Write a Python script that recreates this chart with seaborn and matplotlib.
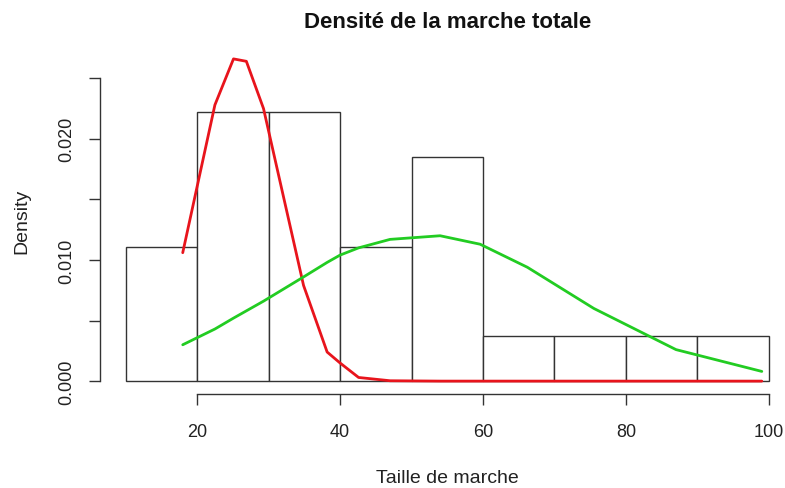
import numpy as np
import pandas as pd
import matplotlib
matplotlib.use("Agg")
import matplotlib.pyplot as plt
import seaborn as sns

# Histogram data (bins of width 10, counts)
bin_edges = [10, 20, 30, 40, 50, 60, 70, 80, 90, 100]
bin_counts = [3, 6, 6, 3, 5, 1, 1, 1, 1]

# Density curves evaluated at points
curve_x = [18.0, 22.5, 25.1, 26.9, 29.3, 34.9, 38.2, 40.0, 42.6, 47.0, 54.0, 59.6, 66.2, 75.5, 87.0, 99.0]
red_y = [0.0106, 0.0228, 0.0266, 0.0264, 0.0225, 0.0079, 0.0024, 0.0015, 0.0003, 0.00003,
         0.0, 0.0, 0.0, 0.0, 0.0, 0.0]
green_y = [0.0030, 0.0043, 0.0052, 0.0058, 0.0066, 0.0086, 0.0098, 0.0104, 0.0110, 0.0117,
           0.0120, 0.0113, 0.0094, 0.0060, 0.0026, 0.0008]

x_ticks = [20, 40, 60, 80, 100]
y_ticks = [0.000, 0.005, 0.010, 0.015, 0.020, 0.025]
y_ticklabels = ["0.000", "", "0.010", "", "0.020", ""]

sns.set_theme(style="white")
plt.rcParams['font.family'] = ['Liberation Sans', 'DejaVu Sans']

W, H = 785, 489
fig = plt.figure(figsize=(W / 100, H / 100), dpi=100)
# plot region in pixels
left_px, right_px, top_px, bottom_px = 99.8, 794.7, 47.0, 395.0
ax = fig.add_axes([left_px / W, 1 - bottom_px / H, (right_px - left_px) / W, (bottom_px - top_px) / H])

centers = [(bin_edges[i] + bin_edges[i + 1]) / 2 for i in range(len(bin_counts))]
hist_df = pd.DataFrame({"x": centers, "w": bin_counts})
sns.histplot(data=hist_df, x="x", weights="w", bins=bin_edges, stat="density",
             color="white", edgecolor="#333333", linewidth=1.0, alpha=1, ax=ax)

curve_df = pd.DataFrame({"x": curve_x, "red": red_y, "green": green_y})
sns.lineplot(data=curve_df, x="x", y="red", color="#e8141c", linewidth=2.0, sort=False,
             estimator=None, ax=ax)
sns.lineplot(data=curve_df, x="x", y="green", color="#22cc22", linewidth=2.0, sort=False,
             estimator=None, ax=ax)

x_range = bin_edges[-1] - bin_edges[0]
ax.set_xlim(bin_edges[0] - 0.04 * x_range, bin_edges[-1] + 0.04 * x_range)
ymax = max(red_y)
ax.set_ylim(-0.04 * ymax, ymax * 1.04)

for s in ["top", "right"]:
    ax.spines[s].set_visible(False)
for s in ["left", "bottom"]:
    ax.spines[s].set_color("#333333")
    ax.spines[s].set_linewidth(1.0)
ax.spines["bottom"].set_bounds(x_ticks[0], x_ticks[-1])
ax.spines["left"].set_bounds(y_ticks[0], y_ticks[-1])

ax.set_xticks(x_ticks)
ax.set_xticklabels([str(t) for t in x_ticks])
ax.set_yticks(y_ticks)
ax.set_yticklabels(y_ticklabels, rotation=90, va="center")
ax.tick_params(axis="both", direction="out", length=8, width=1.0, color="#333333",
               labelsize=13, labelcolor="#222222", left=True, bottom=True)
ax.tick_params(axis="x", pad=13)
ax.tick_params(axis="y", pad=10)

ax.set_xlabel("Taille de marche", fontsize=14, color="#222222", labelpad=21)
ax.set_ylabel("Density", fontsize=14, color="#222222", labelpad=20)
fig.text((left_px + right_px) / 2 / W, 1 - 22 / H, "Densité de la marche totale",
         ha="center", va="center", fontsize=16, fontweight="bold", color="#111111")

fig.savefig("out.png", dpi=100)
